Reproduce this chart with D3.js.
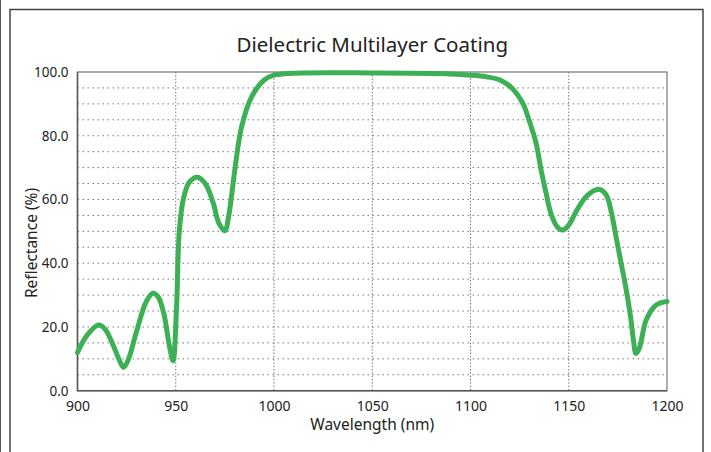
<html>
<head>
<script src="https://cdnjs.cloudflare.com/ajax/libs/d3/7.8.5/d3.min.js"></script>
<style>
  body { margin: 0; background: #fff; }
  text { font-family: "Noto Sans", "Open Sans", sans-serif; fill: #222; }
</style>
</head>
<body>
<div id="chart"></div>
<script>
// wavelength (nm) and reflectance (%)
var wavelength = [900, 905, 910.8, 914, 918, 921, 923.5, 926, 930, 935, 938.4, 941, 944, 946.5, 948.6,
  950.4, 951.8, 954, 957, 961, 965, 969, 972, 975, 977, 980, 983.5, 988.6, 995, 1000, 1010,
  1050, 1085, 1100, 1108, 1115, 1121, 1126.6, 1130, 1133.4, 1136, 1138.5, 1141, 1144, 1147,
  1150, 1154, 1159, 1165.3, 1169, 1171.5, 1174, 1176.5, 1179, 1181.5, 1183, 1184.2, 1186, 1189.4,
  1194.5, 1200];
var reflectance = [12.0, 17.5, 20.6, 19.3, 14.5, 10, 7.3, 10, 18.5, 28, 30.6, 29.5, 24, 15, 9.4,
  26, 50, 60.5, 65.5, 67, 65, 59, 52.5, 50.2, 55, 69, 82.8, 92.2, 97.5, 99, 99.6,
  99.7, 99.5, 99, 98.5, 97.5, 95, 90.2, 84.5, 77.6, 69, 61.9, 55.5, 51.5, 50.4,
  52, 56.5, 61, 63.2, 61.5, 56.5, 48.5, 40.5, 32.5, 23, 15.5, 11.7, 13.5, 22.2,
  26.9, 28];
var xTicks = [900, 950, 1000, 1050, 1100, 1150, 1200];
var yTicks = [0, 20, 40, 60, 80, 100];
var yGrid = d3.range(5, 100, 5);

var width = 711, height = 452;
var pLeft = 77.5, pRight = 667, pTop = 72, pBottom = 390.7;

var svg = d3.select("#chart").append("svg")
  .attr("width", width)
  .attr("height", height);

// outer frame
svg.append("rect")
  .attr("x", 10).attr("y", 9.5)
  .attr("width", 693).attr("height", 460)
  .attr("fill", "none")
  .attr("stroke", "#444")
  .attr("stroke-width", 1.5);
svg.append("line")
  .attr("x1", 0.5).attr("x2", 0.5).attr("y1", 0).attr("y2", height)
  .attr("stroke", "#555").attr("stroke-width", 1);

var x = d3.scaleLinear().domain([900, 1200]).range([pLeft, pRight]);
var y = d3.scaleLinear().domain([0, 100]).range([pBottom, pTop]);

// grid
svg.append("g").selectAll("line").data(yGrid).enter().append("line")
  .attr("x1", pLeft).attr("x2", pRight)
  .attr("y1", function(d) { return y(d); })
  .attr("y2", function(d) { return y(d); })
  .attr("stroke", "#777")
  .attr("stroke-width", 1)
  .attr("stroke-dasharray", "1.5,3.5");
svg.append("g").selectAll("line").data(xTicks.slice(1, -1)).enter().append("line")
  .attr("x1", function(d) { return x(d); })
  .attr("x2", function(d) { return x(d); })
  .attr("y1", pTop).attr("y2", pBottom)
  .attr("stroke", "#777")
  .attr("stroke-width", 1)
  .attr("stroke-dasharray", "1.5,1.8");

// plot border
svg.append("rect")
  .attr("x", pLeft).attr("y", pTop)
  .attr("width", pRight - pLeft).attr("height", pBottom - pTop)
  .attr("fill", "none")
  .attr("stroke", "#777")
  .attr("stroke-width", 1.2);
svg.append("path")
  .attr("d", "M" + pLeft + "," + pTop + "V" + pBottom + "H" + pRight)
  .attr("fill", "none")
  .attr("stroke", "#555")
  .attr("stroke-width", 1.5);

// axes
var xAxis = d3.axisBottom(x).tickValues(xTicks).tickSize(0).tickPadding(10)
  .tickFormat(d3.format("d"));
var gx = svg.append("g").attr("transform", "translate(0," + pBottom + ")").call(xAxis);
gx.select(".domain").remove();
gx.selectAll("text").style("font-size", "14px").attr("fill", "#222");

var yAxis = d3.axisLeft(y).tickValues(yTicks).tickSize(0).tickPadding(9)
  .tickFormat(d3.format(".1f"));
var gy = svg.append("g").attr("transform", "translate(" + pLeft + ",0)").call(yAxis);
gy.select(".domain").remove();
gy.selectAll("text").style("font-size", "13.5px").attr("fill", "#222");

// curve
var pts = wavelength.map(function(w, i) { return [w, reflectance[i]]; });
var line = d3.line()
  .x(function(d) { return x(d[0]); })
  .y(function(d) { return y(d[1]); })
  .curve(d3.curveCatmullRom.alpha(0.5));
svg.append("path")
  .datum(pts)
  .attr("d", line)
  .attr("fill", "none")
  .attr("stroke", "#3cb054")
  .attr("stroke-width", 5)
  .attr("stroke-linejoin", "round")
  .attr("stroke-linecap", "round");

// titles
svg.append("text")
  .attr("x", (pLeft + pRight) / 2).attr("y", 52)
  .attr("text-anchor", "middle")
  .style("font-size", "20.5px")
  .text("Dielectric Multilayer Coating");
svg.append("text")
  .attr("x", (pLeft + pRight) / 2).attr("y", 430)
  .attr("text-anchor", "middle")
  .style("font-size", "15.5px")
  .text("Wavelength (nm)");
svg.append("text")
  .attr("transform", "translate(37,243) rotate(-90)")
  .attr("text-anchor", "middle")
  .style("font-size", "15.5px")
  .text("Reflectance (%)");
</script>
</body>
</html>
